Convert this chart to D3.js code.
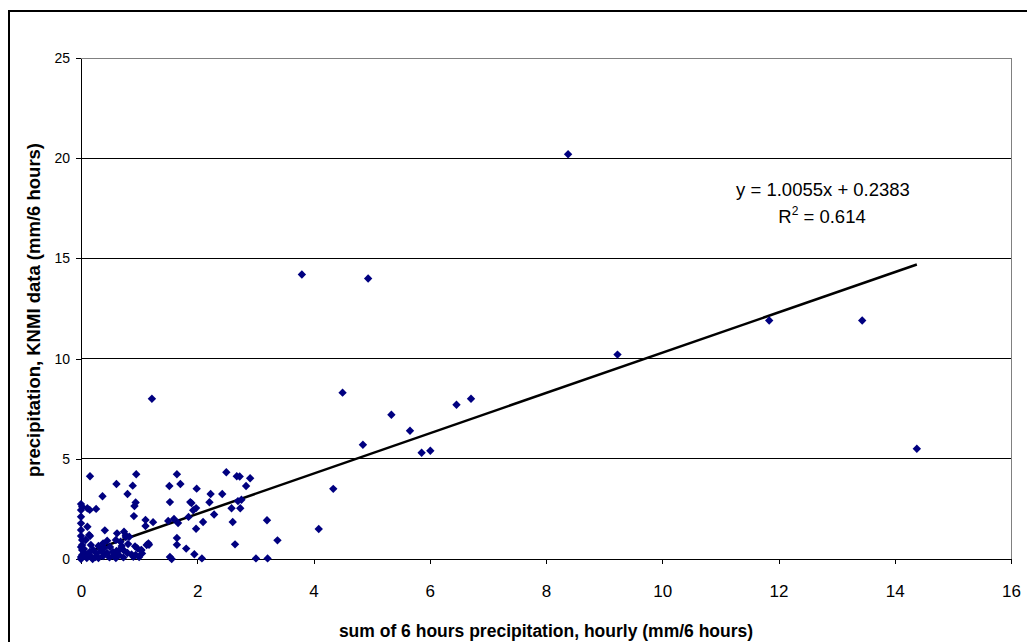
<!DOCTYPE html>
<html>
<head>
<meta charset="utf-8">
<script src="https://cdn.jsdelivr.net/npm/d3@7"></script>
<style>
  html, body { margin: 0; padding: 0; background: #fff; }
  svg { display: block; font-family: "Liberation Sans", Arial, sans-serif; }
</style>
</head>
<body>
<svg id="chart" width="1027" height="642"></svg>
<script>
// Hourly sums (x) vs KNMI 6-hour totals (y), mm/6 hours
const hourlySum = [
  8.38, 3.80, 4.94, 13.44, 11.84, 9.23, 1.22, 4.50, 6.71, 6.46, 5.34, 5.66, 4.85, 5.86, 6.01, 14.38,
  4.34, 4.09, 3.38, 3.20, 3.01, 3.21,
  0.155, 0.95, 1.65, 2.50, 2.68, 2.73, 2.91,
  0.61, 0.89, 1.52, 1.71, 1.99, 2.84,
  0.37, 0.80, 2.23, 2.43,
  0.94, 0.92, 1.53, 1.88, 1.90, 2.21, 2.76, 2.70,
  1.98, 1.93, 2.59, 2.74, 2.29,
  0.91, 1.11, 1.11, 1.24, 1.50, 1.60, 1.67, 1.85, 2.10, 2.61, 1.98, 0.41,
  1.65, 1.65, 1.81, 1.95, 2.08, 2.65, 1.53, 1.56,
  1.16, 1.13, 1.04, 0.97, 0.94, 1.05,
  0.62, 0.74, 0.77, 0.60, 0.68, 0.83,
  0.14, 0.08,
  0.00, 0.02, 0.11, 0.00, 0.00, 0.00, 0.11, 0.00, 0.00, 0.155, 0.02, 0.02, 0.02, 0.02, 0.00, 0.00, 0.05, 0.00,
  0.26, 0.15,
  0.45, 0.38, 0.77, 0.81, 0.93, 1.03, 1.17,
  0.87, 0.90, 0.73, 0.56, 0.49, 0.38, 0.27, 0.21, 0.17, 0.67, 0.73, 0.61,
  0.10, 0.20, 0.30, 0.12, 0.45, 0.55, 0.35, 0.05, 0.25, 0.60, 0.80, 0.65, 0.40, 0.15, 0.50, 0.30, 0.08, 0.18, 0.70, 1.00
];
const knmiTotal = [
  20.2, 14.2, 14.0, 11.9, 11.9, 10.2, 8.0, 8.3, 8.0, 7.7, 7.2, 6.4, 5.7, 5.3, 5.4, 5.5,
  3.5, 1.5, 0.93, 1.93, 0.03, 0.03,
  4.13, 4.23, 4.23, 4.33, 4.13, 4.12, 4.03,
  3.74, 3.66, 3.64, 3.74, 3.51, 3.64,
  3.13, 3.24, 3.24, 3.24,
  2.82, 2.64, 2.84, 2.84, 2.79, 2.83, 2.96, 2.89,
  2.54, 2.43, 2.53, 2.53, 2.22,
  2.14, 1.95, 1.65, 1.84, 1.90, 2.00, 1.80, 2.10, 1.85, 1.85, 1.51, 1.43,
  1.05, 0.71, 0.52, 0.24, 0.03, 0.73, 0.10, 0.00,
  0.78, 0.70, 0.45, 0.53, 0.20, 0.28,
  1.28, 1.36, 1.18, 0.95, 0.86, 1.11,
  1.20, 0.95,
  2.74, 2.61, 2.53, 2.44, 2.11, 1.78, 1.61, 1.45, 1.15, 1.15, 0.95, 0.70, 0.45, 0.20, 0.00, 0.10, 0.30, 0.60,
  2.50, 2.45,
  0.91, 0.78, 1.10, 0.75, 0.63, 0.43, 0.71,
  0.23, 0.11, 0.08, 0.16, 0.08, 0.15, 0.28, 0.45, 0.70, 0.48, 0.45, 0.40,
  0.05, 0.00, 0.05, 0.15, 0.30, 0.35, 0.40, 0.50, 0.10, 0.05, 0.30, 0.20, 0.55, 0.35, 0.60, 0.65, 0.25, 0.10, 0.65, 0.10
];

const xTicks = [0, 2, 4, 6, 8, 10, 12, 14, 16];
const yTicks = [0, 5, 10, 15, 20, 25];

// Linear trend line fitted to the data
const trendSlope = 1.0055;
const trendIntercept = 0.2383;
const rSquared = 0.614;

const xTitle = "sum of 6 hours precipitation, hourly (mm/6 hours)";
const yTitle = "precipitation, KNMI data (mm/6 hours)";

const svg = d3.select("#chart");
const plot = { left: 81, right: 1011, top: 58, bottom: 559 };

const x = d3.scaleLinear().domain([0, 16]).range([plot.left, plot.right]);
const y = d3.scaleLinear().domain([0, 25]).range([plot.bottom, plot.top]);

// outer chart frame
svg.append("rect")
  .attr("x", 9).attr("y", 11)
  .attr("width", 1040).attr("height", 660)
  .attr("fill", "#fff").attr("stroke", "#000").attr("stroke-width", 2);

// horizontal gridlines
svg.append("g").selectAll("line")
  .data(yTicks.filter(v => v > 0))
  .join("line")
  .attr("x1", plot.left).attr("x2", plot.right)
  .attr("y1", d => y(d)).attr("y2", d => y(d))
  .attr("stroke", d => d === 25 ? "#808080" : "#000")
  .attr("stroke-width", 1)
  .attr("shape-rendering", "crispEdges");

// right edge of plot area
svg.append("line")
  .attr("x1", plot.right).attr("x2", plot.right)
  .attr("y1", plot.top).attr("y2", plot.bottom)
  .attr("stroke", "#808080").attr("shape-rendering", "crispEdges");

// axes
const xAxis = svg.append("g")
  .attr("transform", `translate(0,${plot.bottom})`)
  .call(d3.axisBottom(x).tickValues(xTicks).tickSize(5).tickSizeOuter(0).tickFormat(d3.format("d")));
xAxis.selectAll("text")
  .attr("y", 38).attr("dy", 0)
  .attr("font-size", 17).attr("fill", "#000")
  .attr("font-family", "Liberation Sans, Arial, sans-serif");

const yAxis = svg.append("g")
  .attr("transform", `translate(${plot.left},0)`)
  .call(d3.axisLeft(y).tickValues(yTicks).tickSize(5).tickSizeOuter(0).tickPadding(6).tickFormat(d3.format("d")));
yAxis.selectAll("text")
  .attr("font-size", 14).attr("fill", "#000")
  .attr("font-family", "Liberation Sans, Arial, sans-serif");

[xAxis, yAxis].forEach(g => {
  g.select(".domain").attr("stroke", "#000").attr("shape-rendering", "crispEdges");
  g.selectAll(".tick line").attr("stroke", "#000").attr("shape-rendering", "crispEdges");
});

// trend line over the observed range
const xMax = d3.max(hourlySum);
svg.append("line")
  .attr("x1", x(0)).attr("y1", y(trendIntercept))
  .attr("x2", x(xMax)).attr("y2", y(trendSlope * xMax + trendIntercept))
  .attr("stroke", "#000").attr("stroke-width", 2.5);

// diamond markers
const diamond = "M0,-4.2L4.2,0L0,4.2L-4.2,0Z";
svg.append("g").selectAll("path")
  .data(d3.zip(hourlySum, knmiTotal))
  .join("path")
  .attr("d", diamond)
  .attr("transform", d => `translate(${x(d[0])},${y(d[1])})`)
  .attr("fill", "#000080");

// regression equation
const eq = svg.append("g").attr("font-size", 18.5).attr("fill", "#000");
eq.append("text")
  .attr("x", 823).attr("y", 196).attr("text-anchor", "middle")
  .text(`y = ${trendSlope}x + ${trendIntercept}`);
const r2 = eq.append("text")
  .attr("x", 822).attr("y", 223).attr("text-anchor", "middle");
r2.append("tspan").text("R");
r2.append("tspan").attr("dy", -8).attr("font-size", 12).text("2");
r2.append("tspan").attr("dy", 8).text(` = ${rSquared}`);

// axis titles
svg.append("text")
  .attr("x", 546).attr("y", 637)
  .attr("text-anchor", "middle")
  .attr("font-size", 17.5).attr("font-weight", "bold")
  .text(xTitle);

svg.append("text")
  .attr("transform", `translate(40,310) rotate(-90)`)
  .attr("text-anchor", "middle")
  .attr("font-size", 18.5).attr("font-weight", "bold")
  .text(yTitle);
</script>
</body>
</html>
